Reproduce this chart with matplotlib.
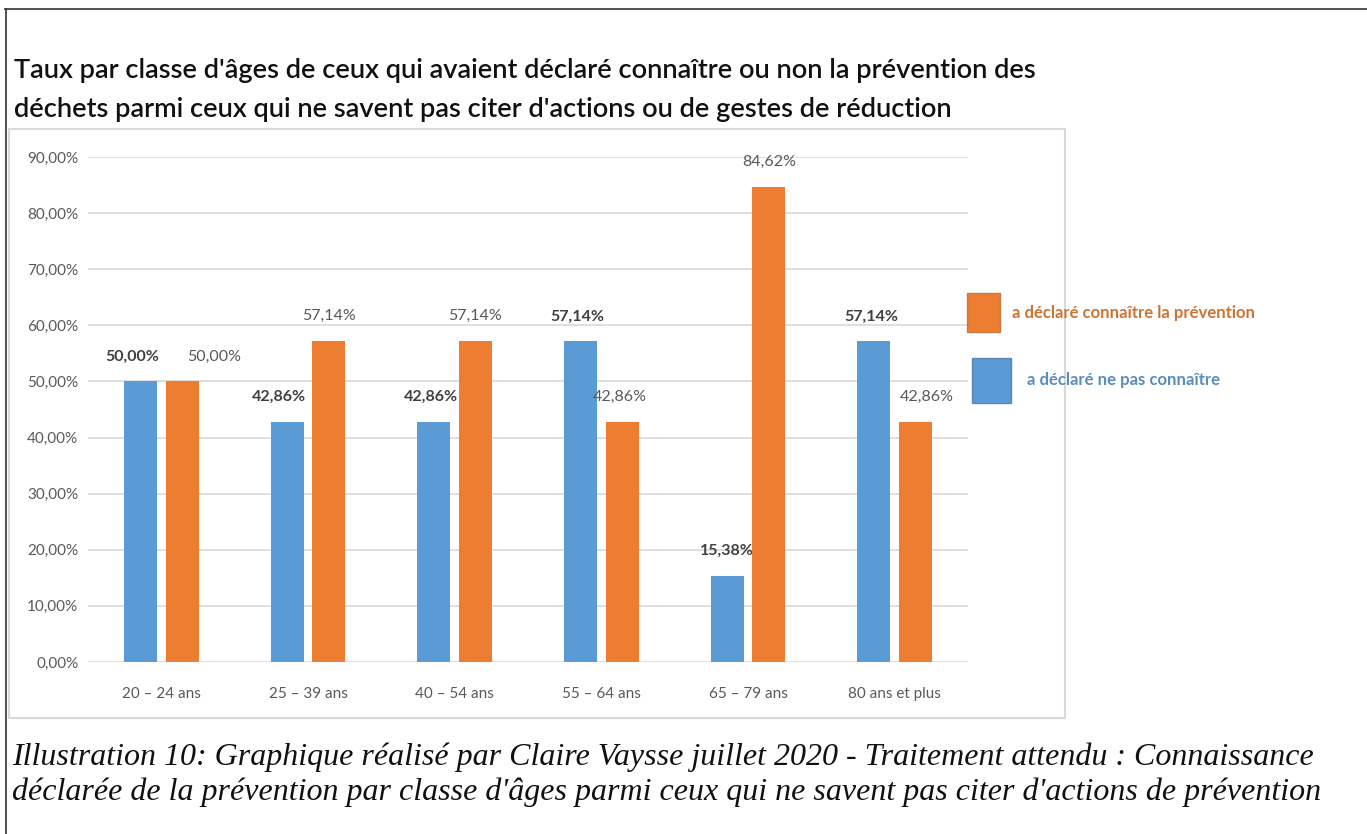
import numpy as np
import matplotlib
matplotlib.use("Agg")
import matplotlib.pyplot as plt
from matplotlib.patches import Rectangle
from matplotlib.lines import Line2D

# data
categories = ["20 \u2013 24 ans", "25 \u2013 39 ans", "40 \u2013 54 ans",
              "55 \u2013 64 ans", "65 \u2013 79 ans", "80 ans et plus"]
ne_pas_connaitre = [50.00, 42.86, 42.86, 57.14, 15.38, 57.14]
connaitre = [50.00, 57.14, 57.14, 42.86, 84.62, 42.86]
yticks = [0, 10, 20, 30, 40, 50, 60, 70, 80, 90]

title_lines = ["Taux par classe d'\u00e2ges de ceux qui avaient d\u00e9clar\u00e9 conna\u00eetre ou non la pr\u00e9vention des",
               "d\u00e9chets parmi ceux qui ne savent pas citer d'actions ou de gestes de r\u00e9duction"]
caption_lines = ["Illustration 10: Graphique r\u00e9alis\u00e9 par Claire Vaysse juillet 2020 - Traitement attendu : Connaissance",
                 "d\u00e9clar\u00e9e de la pr\u00e9vention par classe d'\u00e2ges parmi ceux qui ne savent pas citer d'actions de pr\u00e9vention"]
legend_labels = ["a d\u00e9clar\u00e9 conna\u00eetre la pr\u00e9vention", "a d\u00e9clar\u00e9 ne pas conna\u00eetre"]

BLUE = "#5b9bd5"
ORANGE = "#ed7d31"

W, H = 1367, 834
fig = plt.figure(figsize=(W / 100, H / 100), dpi=100)
renderer = fig.canvas.get_renderer()


def px(x, y):
    # pixel coords (top-left origin) -> figure fraction
    return x / W, 1 - y / H


def fit_text(x, y, s, width_px, **kw):
    t = fig.text(*px(x, y), s, va="baseline", ha="left", **kw)
    w = t.get_window_extent(renderer).width
    t.set_fontsize(t.get_fontsize() * width_px / w)
    return t


# page frame (top and left edge of the document box)
fig.add_artist(Line2D([5 / W, 1], [1 - 9 / H] * 2, color="#333333", lw=1.2))
fig.add_artist(Line2D([6 / W] * 2, [0, 1 - 9 / H], color="#333333", lw=1.2))

# chart area border
x0, y0 = px(9, 718)
x1, y1 = px(1065, 129)
fig.add_artist(Rectangle((x0, y0), x1 - x0, y1 - y0, fill=False,
                         edgecolor="#d9d9d9", lw=1.5))

# title
t1 = fit_text(14, 78, title_lines[0], 1026, fontsize=17, family="Lato",
              fontweight="semibold", color="#111111")
fig.text(*px(14, 117), title_lines[1], va="baseline", ha="left",
         fontsize=t1.get_fontsize(), family="Lato", fontweight="semibold",
         color="#111111")

# bar chart
ax = fig.add_axes([88 / W, 1 - 662 / H, 880 / W, 505 / H])
x = np.arange(len(categories))
bw = 0.225
off = 0.142
ax.bar(x - off, ne_pas_connaitre, bw, color=BLUE, zorder=2)
ax.bar(x + off, connaitre, bw, color=ORANGE, zorder=2)

ax.set_xlim(-0.5, len(categories) - 0.5)
ax.set_ylim(0, 90)
ax.set_yticks(yticks)
ax.set_yticklabels(["%d,00%%" % v for v in yticks])
ax.set_xticks(x)
ax.set_xticklabels(categories)
ax.yaxis.grid(True, color="#d9d9d9", lw=1.2, zorder=0)
for s in ax.spines.values():
    s.set_visible(False)
ax.tick_params(axis="both", length=0, colors="#595959", labelsize=11)
ax.tick_params(axis="y", pad=7)
ax.tick_params(axis="x", pad=18)
for lab in ax.get_xticklabels() + ax.get_yticklabels():
    lab.set_family("Lato")

# data labels (small horizontal nudges in points, as in the original)
blue_dx = [-6, -6, -2, -2, 0, -2]
orange_dx = [23, 0, 0, -2, 0, 8]
for i in range(len(categories)):
    ax.annotate(("%.2f%%" % ne_pas_connaitre[i]).replace(".", ","),
                (x[i] - off, ne_pas_connaitre[i]), xytext=(blue_dx[i], 18),
                textcoords="offset points", ha="center", va="center",
                fontsize=11.5, fontweight="bold", family="Lato", color="#404040")
    ax.annotate(("%.2f%%" % connaitre[i]).replace(".", ","),
                (x[i] + off, connaitre[i]), xytext=(orange_dx[i], 18),
                textcoords="offset points", ha="center", va="center",
                fontsize=11.5, family="Lato", color="#595959")

# legend drawn by hand, outside the plot like in the source
sx, sy = px(967, 332)
fig.add_artist(Rectangle((sx, sy), 33 / W, 39 / H, facecolor=ORANGE, edgecolor="#c97a45", lw=1))
sx, sy = px(972, 403)
fig.add_artist(Rectangle((sx, sy), 39 / W, 45 / H, facecolor=BLUE, edgecolor="#5a86b8", lw=1))
fit_text(1012, 318, legend_labels[0], 246, fontsize=10, family="Lato",
         fontweight="bold", color="#cc7434")
fit_text(1027, 385, legend_labels[1], 195, fontsize=10, family="Lato",
         fontweight="bold", color="#5a8cc0")

# caption
c1 = fit_text(12, 765, caption_lines[0], 1298, fontsize=22,
              family="Liberation Serif", style="italic", color="#111111")
fig.text(*px(12, 800), caption_lines[1], va="baseline", ha="left",
         fontsize=c1.get_fontsize(), family="Liberation Serif", style="italic",
         color="#111111")

fig.savefig("out.png", dpi=100)
